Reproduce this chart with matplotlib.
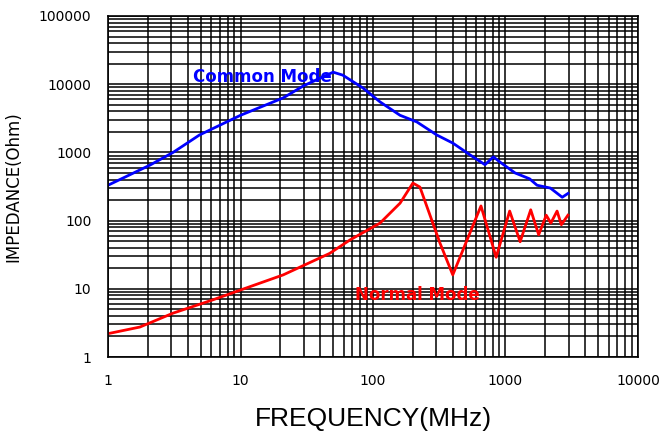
import numpy as np
import matplotlib.pyplot as plt
from matplotlib.ticker import LogLocator, FixedLocator, FixedFormatter, NullFormatter

# Common mode impedance
cm_freq = [1, 2.07, 3.1, 4.9, 10, 21, 30, 50, 59, 84, 113, 160, 214, 303, 400,
           540, 700, 810, 910, 1180, 1520, 1730, 2180, 2680, 2960]
cm_imp = [330, 650, 1000, 1800, 3500, 6300, 9500, 15000, 13600, 8800, 5500, 3500,
          2800, 1800, 1370, 920, 660, 860, 720, 500, 410, 330, 300, 220, 250]

# Normal mode impedance
nm_freq = [1, 1.74, 3.1, 6.2, 10, 21, 47, 67, 113, 160, 200, 226, 320, 400,
           653, 850, 1075, 1290, 1550, 1780, 2030, 2200, 2450, 2640, 2960]
nm_imp = [2.2, 2.75, 4.4, 6.9, 9.6, 16, 33, 52, 92, 180, 355, 310, 47, 16,
          164, 29, 138, 49, 144, 62, 120, 92, 138, 87, 120]

x_ticks = [1, 10, 100, 1000, 10000]
x_labels = ['1', '10', '100', '1000', '10000']
y_ticks = [1, 10, 100, 1000, 10000, 100000]
y_labels = ['1', '10', '100', '1000', '10000', '100000']

fig = plt.figure(figsize=(6.61, 4.38), dpi=100)
ax = fig.add_axes([0.1634, 0.1849, 0.8018, 0.7786])

ax.set_xscale('log')
ax.set_yscale('log')
ax.set_xlim(1, 10000)
ax.set_ylim(1, 100000)

ax.xaxis.set_major_locator(FixedLocator(x_ticks))
ax.xaxis.set_major_formatter(FixedFormatter(x_labels))
ax.yaxis.set_major_locator(FixedLocator(y_ticks))
ax.yaxis.set_major_formatter(FixedFormatter(y_labels))
ax.xaxis.set_minor_locator(LogLocator(base=10, subs=np.arange(2, 10), numticks=20))
ax.yaxis.set_minor_locator(LogLocator(base=10, subs=np.arange(2, 10), numticks=20))
ax.xaxis.set_minor_formatter(NullFormatter())
ax.yaxis.set_minor_formatter(NullFormatter())

ax.grid(True, which='both', color='black', linewidth=1.1)
ax.tick_params(which='both', length=0, labelsize=10, pad=12)
for s in ax.spines.values():
    s.set_color('black')
    s.set_linewidth(1.2)

ax.plot(cm_freq, cm_imp, color='#0000ff', linewidth=2)
ax.plot(nm_freq, nm_imp, color='#ff0000', linewidth=2)

ax.text(4.4, 12600, 'Common Mode', color='#0000ff', fontsize=12, fontweight='bold', va='center')
ax.text(73, 8.1, 'Normal Mode', color='#ff0000', fontsize=12, fontweight='bold', va='center')

ax.set_xlabel('FREQUENCY(MHz)', fontsize=19, family='Liberation Sans', labelpad=14)
ax.set_ylabel('IMPEDANCE(Ohm)', fontsize=12, labelpad=12)

fig.savefig('out.png', dpi=100)
